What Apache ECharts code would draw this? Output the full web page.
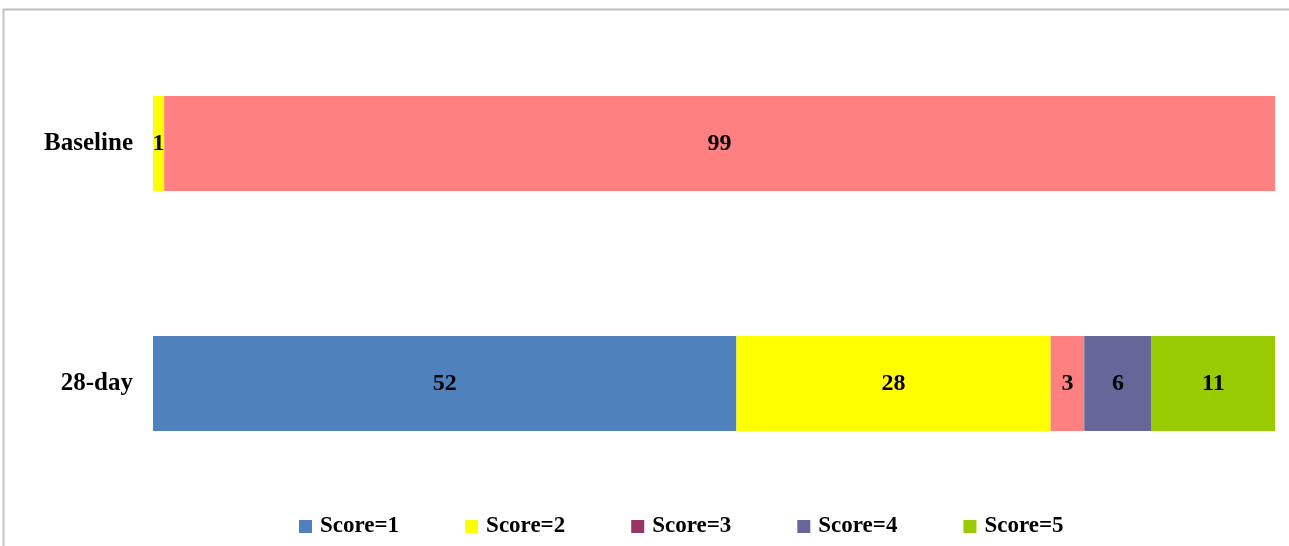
<!DOCTYPE html>
<html>
<head>
<meta charset="utf-8">
<script src="https://cdn.jsdelivr.net/npm/echarts@6/dist/echarts.min.js"></script>
<style>
html,body{margin:0;padding:0;background:#fff;}
#c{width:1289px;height:546px;}
</style>
</head>
<body>
<div id="c"></div>
<script>
const categories = ['Baseline', '28-day'];
const seriesNames = ['Score=1', 'Score=2', 'Score=3', 'Score=4', 'Score=5'];
const score1 = [null, 52];
const score2 = [1, 28];
const score3 = [99, 3];
const score4 = [null, 6];
const score5 = [null, 11];
const barColors = ['#4F81BD', '#FFFF00', '#FF8080', '#666699', '#99CC00'];
const legendColors = ['#4F81BD', '#FFFF00', '#993366', '#666699', '#99CC00'];

const values = [score1, score2, score3, score4, score5];
const font = '"Liberation Serif", "Times New Roman", serif';

const chart = echarts.init(document.getElementById('c'));
chart.setOption({
  animation: false,
  backgroundColor: '#fff',
  grid: { left: 153, right: 14, top: 23.5, bottom: 42.5, containLabel: false },
  xAxis: {
    type: 'value', min: 0, max: 100,
    show: false
  },
  yAxis: {
    type: 'category', data: categories, inverse: true,
    axisLine: { show: false }, axisTick: { show: false },
    axisLabel: { color: '#000', fontFamily: font, fontWeight: 'bold', fontSize: 25, margin: 20 }
  },
  legend: {
    bottom: 3, left: 294,
    itemWidth: 13, itemHeight: 13, itemGap: 66,
    icon: 'rect',
    textStyle: { color: '#000', fontFamily: font, fontWeight: 'bold', fontSize: 23, padding: [0, 0, 0, 3] },
    data: seriesNames.map((n, i) => ({ name: n, itemStyle: { color: legendColors[i] } }))
  },
  graphic: [
    { type: 'line', shape: { x1: 3, y1: 9.5, x2: 1289, y2: 9.5 }, style: { stroke: '#bdbdbd', lineWidth: 2 } },
    { type: 'line', shape: { x1: 3.5, y1: 9, x2: 3.5, y2: 546 }, style: { stroke: '#c4c4c4', lineWidth: 2 } }
  ],
  series: seriesNames.map((n, i) => ({
    name: n, type: 'bar', stack: 'total',
    barWidth: 95,
    data: values[i],
    itemStyle: { color: barColors[i] },
    label: {
      show: true, position: 'inside', color: '#000',
      fontFamily: font, fontWeight: 'bold', fontSize: 24,
      formatter: p => (p.value == null ? '' : p.value)
    }
  }))
});
</script>
</body>
</html>
